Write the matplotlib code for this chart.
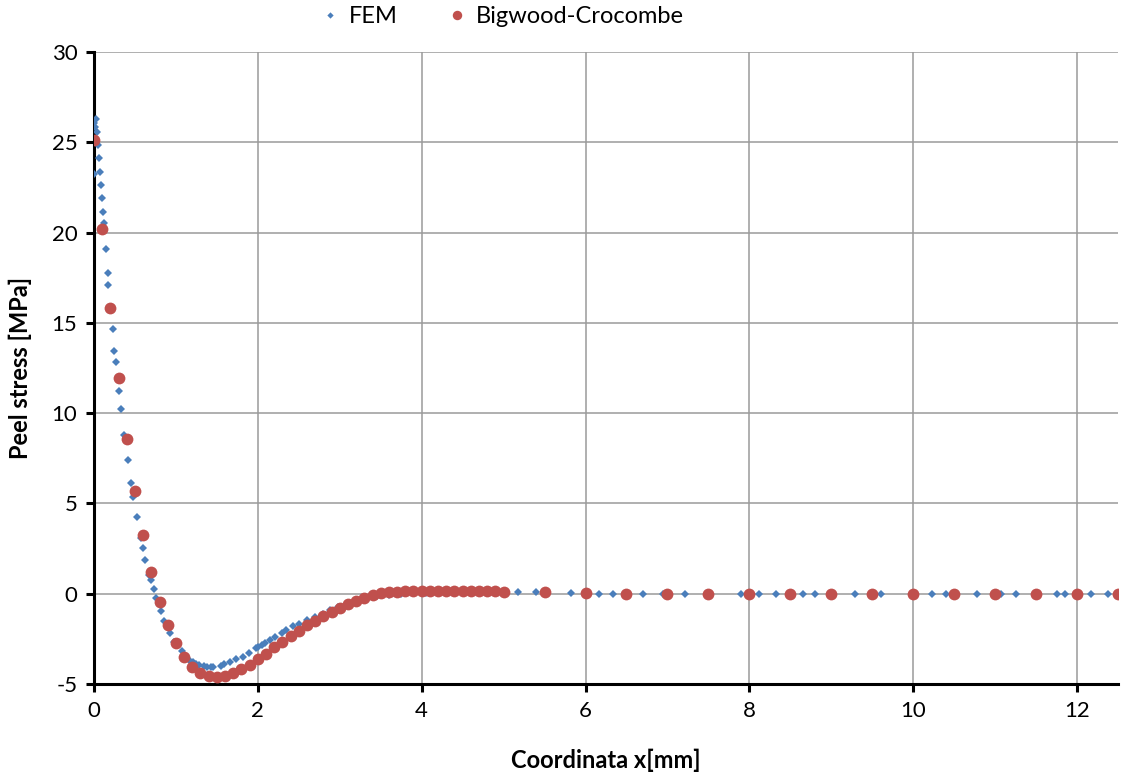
import numpy as np
import matplotlib.pyplot as plt

plt.rcParams['font.family'] = ['Lato', 'DejaVu Sans']
plt.rcParams['font.size'] = 16
plt.rcParams['axes.unicode_minus'] = False

# FEM results (mesh nodes)
fem_x = [0.0, 0.004, 0.012, 0.024, 0.037, 0.053, 0.061, 0.073, 0.082, 0.094,
         0.114, 0.122, 0.143, 0.167, 0.175, 0.228, 0.248, 0.265, 0.305, 0.33,
         0.367, 0.411, 0.448, 0.48, 0.529, 0.57, 0.595, 0.627, 0.672, 0.693,
         0.729, 0.757, 0.815, 0.855, 0.929, 0.982, 1.071, 1.12, 1.164, 1.206,
         1.246, 1.287, 1.344, 1.385, 1.425, 1.458, 1.551, 1.588, 1.662, 1.735,
         1.817, 1.894, 1.975, 2.007, 2.05, 2.09, 2.15, 2.21, 2.29, 2.35,
         2.43, 2.5, 2.6, 2.7, 2.79, 2.88, 2.98, 3.09, 3.2, 3.33,
         3.46, 3.6, 3.75, 3.9, 4.05, 4.2, 4.4, 4.6, 4.8, 5.0,
         5.18, 5.39, 5.82, 6.16, 6.33, 6.70, 6.94, 7.21, 7.90, 8.12,
         8.33, 8.65, 8.80, 9.29, 9.61, 10.23, 10.40, 10.78, 11.07, 11.25,
         11.76, 11.85, 12.17, 12.38]
fem_y = [23.26, 26.05, 25.86, 26.29, 25.59, 24.85, 24.11, 23.37, 22.64, 21.9,
         21.16, 20.51, 19.08, 17.75, 17.1, 14.65, 13.44, 12.85, 11.25, 10.23,
         8.79, 7.41, 6.15, 5.34, 4.24, 3.11, 2.52, 1.87, 1.04, 0.76,
         0.25, -0.22, -0.94, -1.51, -2.19, -2.65, -3.2, -3.48, -3.66, -3.76,
         -3.89, -3.96, -4.03, -4.04, -4.04, -4.04, -3.98, -3.9, -3.78, -3.63,
         -3.48, -3.26, -3.02, -2.93, -2.84, -2.75, -2.56, -2.41, -2.19, -2.0,
         -1.78, -1.67, -1.45, -1.3, -1.12, -0.93, -0.75, -0.57, -0.42, -0.27,
         -0.15, -0.06, 0.0, 0.02, 0.03, 0.04, 0.04, 0.05, 0.06, 0.07,
         0.08, 0.08, 0.03, 0.01, 0.01, 0.0, 0.0, 0.0, 0.0, 0.0,
         0.0, 0.0, 0.0, 0.0, 0.0, 0.0, 0.0, 0.0, 0.0, 0.0,
         0.0, 0.0, 0.0, 0.0]

# Bigwood-Crocombe analytical solution
bc_x = [0.0, 0.1, 0.2, 0.3, 0.4, 0.5, 0.6, 0.7, 0.8, 0.9,
        1.0, 1.1, 1.2, 1.3, 1.4, 1.5, 1.6, 1.7, 1.8, 1.9,
        2.0, 2.1, 2.2, 2.3, 2.4, 2.5, 2.6, 2.7, 2.8, 2.9,
        3.0, 3.1, 3.2, 3.3, 3.4, 3.5, 3.6, 3.7, 3.8, 3.9,
        4.0, 4.1, 4.2, 4.3, 4.4, 4.5, 4.6, 4.7, 4.8, 4.9,
        5.0, 5.5, 6.0, 6.5, 7.0, 7.5, 8.0, 8.5, 9.0, 9.5,
        10.0, 10.5, 11.0, 11.5, 12.0, 12.5]
bc_y = [25.1, 20.2, 15.8, 11.93, 8.59, 5.69, 3.26, 1.22, -0.44, -1.73,
        -2.74, -3.52, -4.07, -4.40, -4.55, -4.62, -4.55, -4.42, -4.18, -3.94,
        -3.63, -3.33, -2.98, -2.65, -2.34, -2.04, -1.73, -1.50, -1.25, -0.99,
        -0.78, -0.57, -0.40, -0.23, -0.08, 0.03, 0.08, 0.12, 0.14, 0.15,
        0.16, 0.16, 0.16, 0.16, 0.16, 0.16, 0.15, 0.15, 0.14, 0.13,
        0.12, 0.07, 0.02, 0.0, 0.0, 0.0, 0.0, 0.0, 0.0, 0.0,
        0.0, 0.0, 0.0, 0.0, 0.0, 0.0]

fig = plt.figure(figsize=(11.24, 7.76), dpi=100)
ax = fig.add_axes([0.0836, 0.1186, 0.9111, 0.8144])

ax.plot(fem_x, fem_y, 'D', color='#4A7EBB', markersize=4, markeredgewidth=0,
        label='FEM', zorder=3)
ax.plot(bc_x, bc_y, 'o', color='#C0504D', markersize=8.5, markeredgewidth=0,
        label='Bigwood-Crocombe', zorder=4)

ax.set_xlim(0, 12.5)
ax.set_ylim(-5, 30)
ax.set_xticks(np.arange(0, 13, 2))
ax.set_yticks(np.arange(-5, 31, 5))
ax.grid(True, color='#9A9A9A', linewidth=1.1)
ax.set_axisbelow(True)

for s in ['top', 'right']:
    ax.spines[s].set_visible(False)
for s in ['left', 'bottom']:
    ax.spines[s].set_linewidth(2.2)
    ax.spines[s].set_color('black')
ax.tick_params(axis='both', direction='out', length=6, width=2.2,
               labelsize=16, pad=6)

ax.set_xlabel('Coordinata x[mm]', fontweight='bold', fontsize=17, labelpad=20)
ax.set_ylabel('Peel stress [MPa]', fontweight='bold', fontsize=17, labelpad=14)

fig.legend(loc='center', bbox_to_anchor=(0.446, 0.979), ncol=2, frameon=False,
           fontsize=17, markerscale=0.8, handletextpad=0.3, columnspacing=2.0,
           handlelength=1.0)

fig.savefig('out.png', dpi=100)
